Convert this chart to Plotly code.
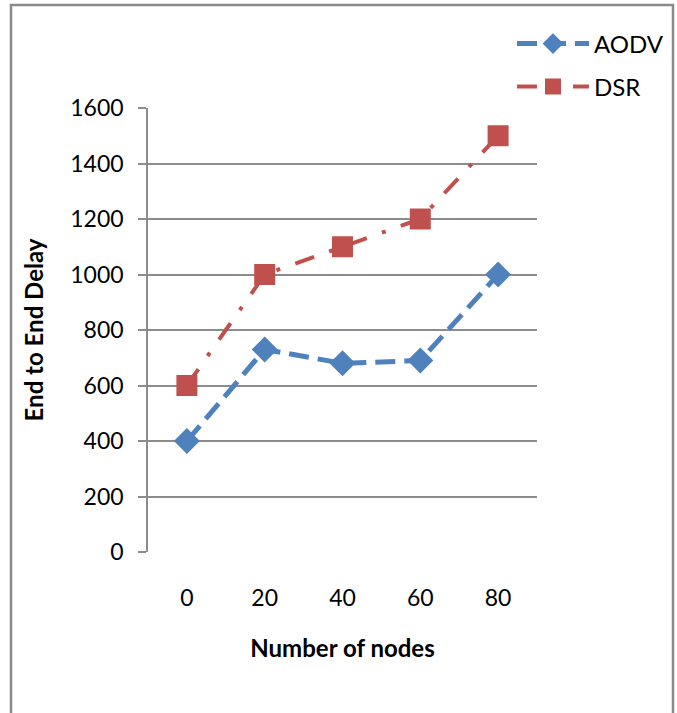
import plotly.graph_objects as go

categories = ["0", "20", "40", "60", "80"]
aodv = [400, 730, 680, 690, 1000]
dsr = [600, 1000, 1100, 1200, 1500]
y_ticks = [0, 200, 400, 600, 800, 1000, 1200, 1400, 1600]

BLUE = "#4F81BD"
RED = "#C0504D"
GRID = "#8C8C8C"
FONT = "Lato"

fig = go.Figure()
fig.add_trace(go.Scatter(
    x=categories, y=aodv, name="AODV", mode="lines+markers",
    line=dict(color=BLUE, width=5, dash="20px,9px"),
    marker=dict(symbol="diamond", size=20, color=BLUE),
    legend="legend",
))
fig.add_trace(go.Scatter(
    x=categories, y=dsr, name="DSR", mode="lines+markers",
    line=dict(color=RED, width=4, dash="20px,16px,4px,16px"),
    marker=dict(symbol="square", size=21, color=RED),
    legend="legend2",
))

L, R, T, B = 148, 537, 108, 552
W, H = 677, 713
pw, ph = R - L, B - T

def px_x(x):
    return (x - L) / pw

def px_y(y):
    return (B - y) / ph

fig.update_layout(
    width=W, height=H,
    margin=dict(l=L, r=W - R, t=T, b=H - B, autoexpand=False),
    paper_bgcolor="white", plot_bgcolor="white",
    font=dict(family=FONT, size=23, color="black"),
    showlegend=True,
    legend=dict(x=px_x(512), y=px_y(44), xanchor="left", yanchor="middle",
                font=dict(size=24), itemwidth=72, bgcolor="rgba(0,0,0,0)"),
    legend2=dict(x=px_x(512), y=px_y(87), xanchor="left", yanchor="middle",
                 font=dict(size=24), itemwidth=72, bgcolor="rgba(0,0,0,0)"),
    xaxis=dict(
        type="category", categoryorder="array", categoryarray=categories,
        range=[-0.5, 4.5], showgrid=False, showline=False, zeroline=False,
        ticks="", tickfont=dict(size=23), ticklabelstandoff=30,
        title=dict(text="<b>Number of nodes</b>", font=dict(size=24), standoff=30),
    ),
    yaxis=dict(
        range=[0, 1600], tickvals=y_ticks, showgrid=True, gridcolor=GRID, gridwidth=1.5,
        showline=True, linecolor=GRID, linewidth=1.5, zeroline=False,
        ticks="outside", ticklen=8, tickcolor=GRID, tickwidth=1.5,
        tickfont=dict(size=23), ticklabelstandoff=10,
        title=dict(text="<b>End to End Delay</b>", font=dict(size=24), standoff=20),
    ),
    shapes=[
        dict(type="rect", xref="paper", yref="paper",
             x0=px_x(11), x1=px_x(673), y0=px_y(760), y1=px_y(5),
             line=dict(color="#8A8A8A", width=2.5), layer="below"),
    ],
)

fig.write_html(
    "out.html",
    config={"displayModeBar": False},
    post_script="document.body.style.margin='0';document.body.style.overflow='hidden';",
)
